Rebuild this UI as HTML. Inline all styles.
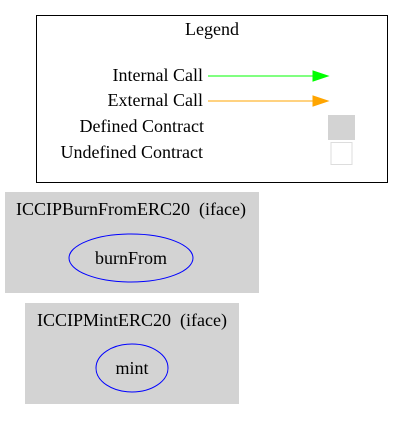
<!DOCTYPE html>
<html><head><style>html,body{margin:0;padding:0;background:#fff}</style></head>
<body>
<svg width="404" height="420" xmlns="http://www.w3.org/2000/svg" font-family="'Liberation Serif', serif" font-size="18px">
<rect x="36.5" y="15.5" width="351" height="167" fill="#fff" stroke="#000"/>
<text x="212" y="35" text-anchor="middle">Legend</text>
<text x="203" y="81" text-anchor="end">Internal Call</text>
<text x="203" y="106" text-anchor="end">External Call</text>
<text x="204" y="132" text-anchor="end">Defined Contract</text>
<text x="203" y="158" text-anchor="end">Undefined Contract</text>
<line x1="208" y1="76" x2="314" y2="76" stroke="#00ff00" stroke-width="1"/>
<polygon points="313,71 328,76 313,81" fill="#00ff00" stroke="#00ff00"/>
<line x1="208" y1="101" x2="314" y2="101" stroke="#ffa500" stroke-width="1"/>
<polygon points="313,96 328,101 313,106" fill="#ffa500" stroke="#ffa500"/>
<rect x="328" y="115" width="27" height="25" fill="#d3d3d3"/>
<rect x="331" y="142.5" width="21" height="22" fill="#fff" stroke="#ddd" stroke-width="1"/>
<rect x="5" y="192" width="254" height="101" fill="#d3d3d3"/>
<text x="131" y="215" text-anchor="middle">ICCIPBurnFromERC20&#160; (iface)</text>
<ellipse cx="131" cy="258" rx="62" ry="24" fill="none" stroke="#0000ff"/>
<text x="131" y="264" text-anchor="middle">burnFrom</text>
<rect x="25" y="303" width="214" height="101" fill="#d3d3d3"/>
<text x="132" y="326" text-anchor="middle">ICCIPMintERC20&#160; (iface)</text>
<ellipse cx="132" cy="368" rx="36" ry="24" fill="none" stroke="#0000ff"/>
<text x="132" y="374" text-anchor="middle">mint</text>
</svg>
</body></html>
